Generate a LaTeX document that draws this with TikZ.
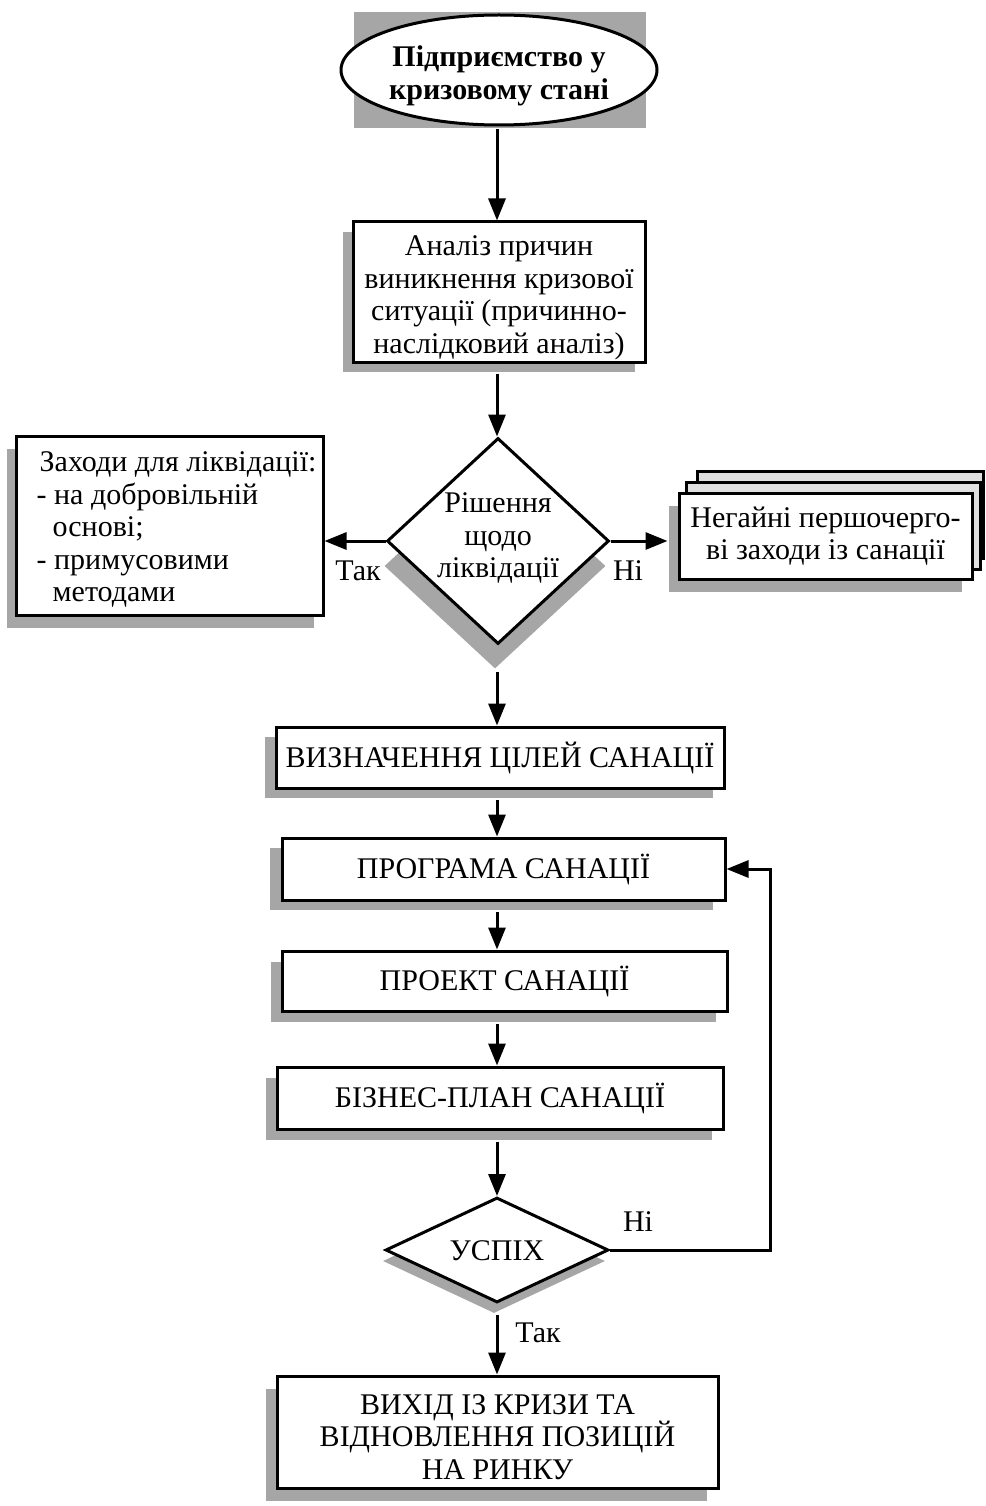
\documentclass[tikz,border=0pt]{standalone}
\usepackage{fontspec}
\setmainfont{Liberation Serif}
\usetikzlibrary{shapes.geometric,arrows.meta,shadows}
\definecolor{shadegray}{RGB}{166,166,166}
\definecolor{backgray}{RGB}{224,224,224}
\begin{document}
\begin{tikzpicture}[x=1pt,y=-1pt,
  every node/.style={font=\fontsize{30}{32.5}\selectfont},
  frame/.style={draw, line width=3pt, fill=white, inner sep=0pt, align=center},
  shadowed/.style 2 args={drop shadow={shadow xshift=#1pt, shadow yshift=#2pt, opacity=1, fill=shadegray, draw=none}},
  link/.style={line width=3pt, -{Triangle[width=17pt,length=22pt]}},
  lbl/.style={inner sep=0pt},
  inside/.style={inner sep=0pt, align=center}
]
\useasboundingbox (0,0) rectangle (985,1506);
\coordinate (spine) at (497,0);
\coordinate (loop) at (770,0);

% starting state
\node[fill=shadegray, inner sep=0pt, minimum width=292pt, minimum height=116pt] (startbg) at (500,70) {};
\node[frame, ellipse, minimum width=316pt, minimum height=110pt] (start) at (499,70) {};
\node[inside, font=\fontsize{30}{33}\selectfont\bfseries] (starttext) at ([yshift=-6pt]start.center)
  {Підприємство у\\кризовому стані};

% cause analysis
\node[frame, shadowed={-10}{-10}, minimum width=292pt, minimum height=140pt] (cause) at (499,292)
  {\rule{0pt}{31pt}Аналіз причин\\виникнення кризової\\ситуації (причинно-\\наслідковий аналіз)};

% liquidation decision
\node[frame, diamond, minimum width=222pt, minimum height=206pt, shadowed={-3}{-25}] (decide) at (498,541) {};
\node[inside] (decidetext) at ([yshift=3pt]decide.center) {Рішення\\щодо\\ліквідації};

% liquidation measures
\node[frame, shadowed={-9}{-13}, minimum width=307pt, minimum height=179pt] (liq) at (169.5,525.5) {};
\node[anchor=west, align=left, inner sep=0pt] (liqtext) at ([xshift=22pt,yshift=-4pt]liq.west)
  {\hspace*{3pt}Заходи для ліквідації:\\- на добровільній\\\hspace*{16pt}основі;\\- примусовими\\\hspace*{16pt}методами};

% urgent measures (stacked sheets)
\node[frame, fill=backgray, minimum width=286pt, minimum height=87pt] (urgback) at (840,514.5) {};
\node[frame, fill=backgray, minimum width=294pt, minimum height=87pt] (urgmid) at (833,525.5) {};
\node[frame, shadowed={-10}{-13}, minimum width=293pt, minimum height=86pt] (urgent) at (825.5,536)
  {Негайні першочерго-\\ві заходи із санації};

% sanation chain
\node[frame, shadowed={-11}{-10}, minimum width=448pt, minimum height=61pt] (goals) at (500,757.5) {ВИЗНАЧЕННЯ ЦІЛЕЙ САНАЦІЇ};
\node[frame, shadowed={-12}{-10}, minimum width=443pt, minimum height=62pt] (prog) at (503.5,869) {ПРОГРАМА САНАЦІЇ};
\node[frame, shadowed={-11}{-11}, minimum width=445pt, minimum height=60pt] (proj) at (504.5,981) {ПРОЕКТ САНАЦІЇ};
\node[frame, shadowed={-11}{-11}, minimum width=446pt, minimum height=62pt] (plan) at (500,1098) {БІЗНЕС-ПЛАН САНАЦІЇ};
\node[frame, diamond, minimum width=223pt, minimum height=105pt, shadowed={-3}{-11}] (success) at (497,1250) {};
\node[inside] (successtext) at ([yshift=-1pt]success.center) {УСПІХ};
\node[frame, shadowed={-11}{-13}, minimum width=441pt, minimum height=112pt] (exit) at (497.5,1432)
  {\rule{0pt}{30pt}ВИХІД ІЗ КРИЗИ ТА\\ВІДНОВЛЕННЯ ПОЗИЦІЙ\\НА РИНКУ};

% connectors
\draw[link, shorten <=3pt] (start.south -| spine) -- (cause.north -| spine);
\draw[link, shorten <=10pt] (cause.south -| spine) -- (decide.north -| spine);
\draw[link] (decide.west) -- (decide.west -| liq.east);
\draw[link, shorten >=10pt] (decide.east) -- (decide.east -| urgent.west);
\draw[link, shorten <=26pt] (decide.south -| spine) -- (goals.north -| spine);
\draw[link, shorten <=10pt] (goals.south -| spine) -- (prog.north -| spine);
\draw[link, shorten <=10pt] (prog.south -| spine) -- (proj.north -| spine);
\draw[link, shorten <=11pt] (proj.south -| spine) -- (plan.north -| spine);
\draw[link, shorten <=11pt] (plan.south -| spine) -- (success.north -| spine);
\draw[link, shorten <=11pt] (success.south -| spine) -- (exit.north -| spine);
\draw[link] (success.east) -- (success.east -| loop) -- (prog.east -| loop) -- (prog.east);

% branch labels
\node[lbl] (yes1) at (358,571) {Так};
\node[lbl] (no1) at (628,571) {Ні};
\node[lbl] (no2) at (638,1222) {Ні};
\node[lbl] (yes2) at (538,1333) {Так};
\end{tikzpicture}
\end{document}
